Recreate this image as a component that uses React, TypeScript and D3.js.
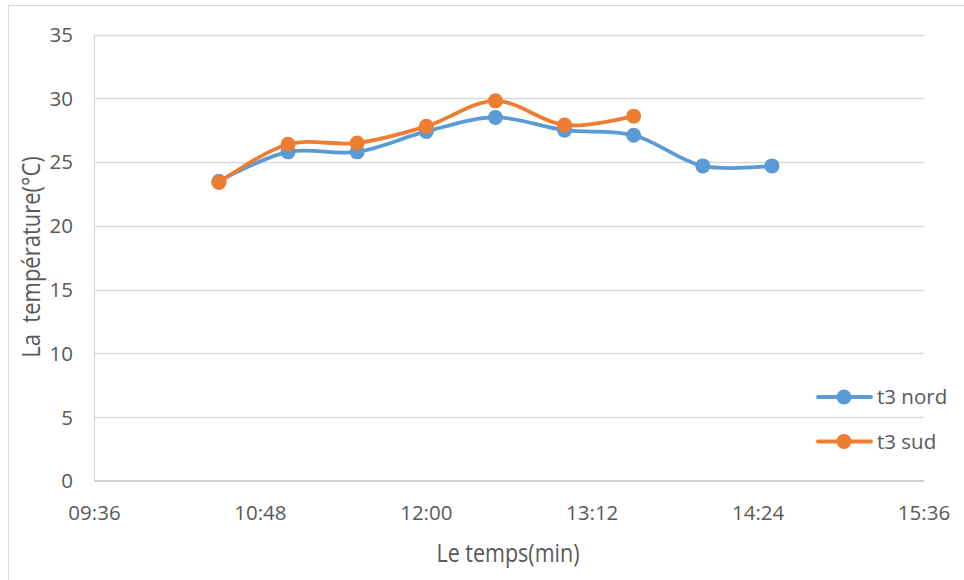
import React from "react";
import * as d3 from "d3";

const times = ["10:30", "11:00", "11:30", "12:00", "12:30", "13:00", "13:30", "14:00", "14:30"];
const nordValues = [23.5, 25.8, 25.8, 27.4, 28.5, 27.5, 27.1, 24.7, 24.7];
const sudTimes = ["10:30", "11:00", "11:30", "12:00", "12:30", "13:00", "13:30"];
const sudValues = [23.4, 26.4, 26.5, 27.8, 29.8, 27.9, 28.6];
const xTickLabels = ["09:36", "10:48", "12:00", "13:12", "14:24", "15:36"];
const yTicks = [0, 5, 10, 15, 20, 25, 30, 35];
const seriesNames = ["t3 nord", "t3 sud"];
const seriesColors = ["#5B9BD5", "#ED7D31"];

const toMin = (s: string) => {
  const [h, m] = s.split(":").map(Number);
  return h * 60 + m;
};

export default function App() {
  const W = 964, H = 580;
  const left = 94.5, right = 924, top = 34.5, bottom = 481;
  const x = d3.scaleLinear().domain([toMin(xTickLabels[0]), toMin(xTickLabels[xTickLabels.length - 1])]).range([left, right]);
  const y = d3.scaleLinear().domain([0, 35]).range([bottom, top]);
  const line = d3.line<[number, number]>().x(d => x(d[0])).y(d => y(d[1])).curve(d3.curveCatmullRom.alpha(0.5));
  const series = [
    times.map((t, i) => [toMin(t), nordValues[i]] as [number, number]),
    sudTimes.map((t, i) => [toMin(t), sudValues[i]] as [number, number]),
  ];
  const font = "'Open Sans', 'Noto Sans', sans-serif";
  const textColor = "#595959";
  return (
    <svg width={W} height={H} style={{ position: "absolute", left: 0, top: 0 }} fontFamily={font}>
      <rect x={0} y={0} width={W} height={H} fill="#fff" />
      <rect x={8.5} y={5.5} width={W + 10} height={H + 10} fill="none" stroke="#D9D9D9" strokeWidth={1} />
      {yTicks.map(v => (
        <g key={v}>
          {v > 0 && <line x1={left} x2={right} y1={Math.round(y(v)) + 0.5} y2={Math.round(y(v)) + 0.5} stroke="#D9D9D9" strokeWidth={1.3} />}
          <text x={73} y={y(v)} dy="0.36em" textAnchor="end" fontSize={20.5} fill={textColor}>{v}</text>
        </g>
      ))}
      <line x1={left} x2={left} y1={top} y2={bottom} stroke="#D9D9D9" strokeWidth={1.3} />
      <line x1={left} x2={right} y1={bottom} y2={bottom} stroke="#BFBFBF" strokeWidth={1.3} />
      {xTickLabels.map(t => (
        <text key={t} x={x(toMin(t))} y={520} textAnchor="middle" fontSize={20.5} fill={textColor}>{t}</text>
      ))}
      <text transform="translate(508,562) scale(1,1.15)" textAnchor="middle" fontSize={21.5} fill={textColor}>Le temps(min)</text>
      <text transform="translate(40,257) rotate(-90) scale(1,1.15)" textAnchor="middle" fontSize={22} fill={textColor} style={{ whiteSpace: "pre" }}>{"La  température(°C)"}</text>
      {series.map((s, i) => (
        <g key={i}>
          <path d={line(s) || ""} fill="none" stroke={seriesColors[i]} strokeWidth={3.8} strokeLinecap="round" />
          {s.map((d, j) => (
            <circle key={j} cx={x(d[0])} cy={y(d[1])} r={7.5} fill={seriesColors[i]} />
          ))}
        </g>
      ))}
      {seriesNames.map((n, i) => {
        const ly = 397 + i * 44.5;
        return (
          <g key={n}>
            <line x1={818} x2={871} y1={ly} y2={ly} stroke={seriesColors[i]} strokeWidth={3.8} strokeLinecap="round" />
            <circle cx={844} cy={ly} r={7.5} fill={seriesColors[i]} />
            <text x={877} y={ly} dy="0.36em" fontSize={20.5} fill={textColor}>{n}</text>
          </g>
        );
      })}
    </svg>
  );
}
